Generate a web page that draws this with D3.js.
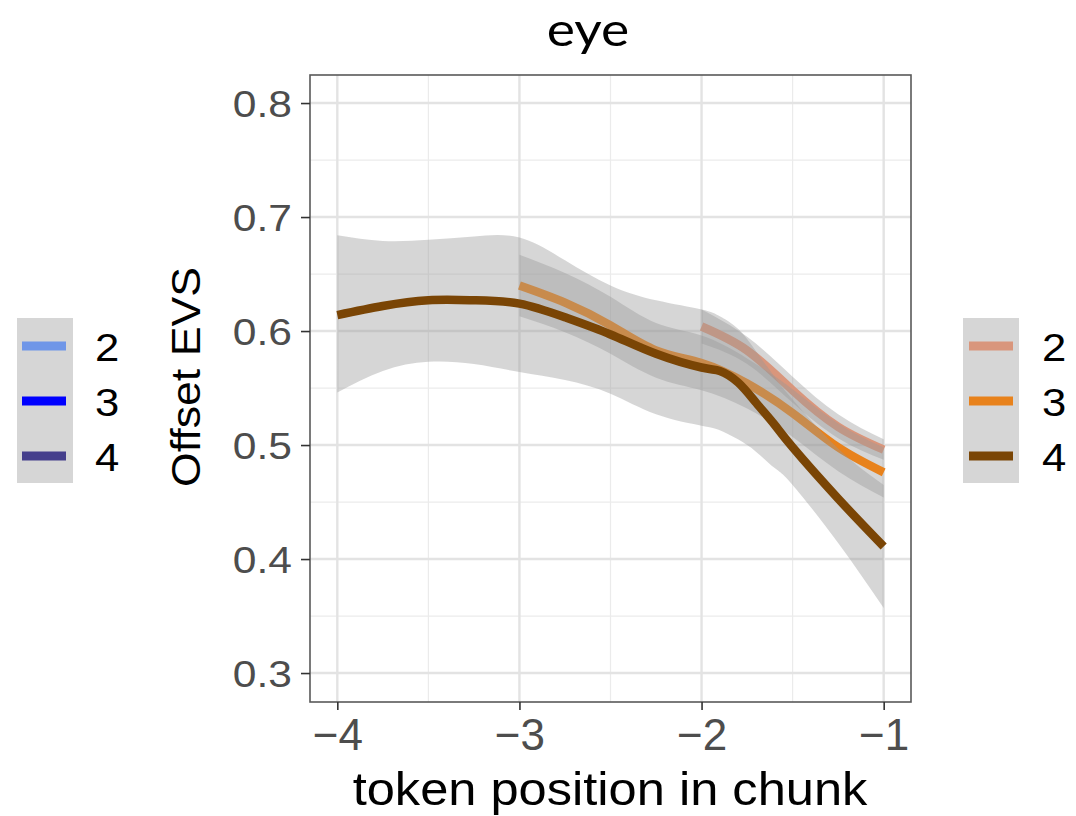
<!DOCTYPE html>
<html><head><meta charset="utf-8">
<script src="https://cdn.jsdelivr.net/npm/d3@7"></script>
<style>body{margin:0;background:#fff}svg{display:block}</style>
</head><body>
<svg id="c" width="1076" height="816"></svg>
<script>
const title = "eye";
const xLabel = "token position in chunk";
const yLabel = "Offset EVS";
const xTicks = [-4, -3, -2, -1];
const xMinor = [-3.5, -2.5, -1.5];
const yTicks = [0.3, 0.4, 0.5, 0.6, 0.7, 0.8];
const yMinor = [0.35, 0.45, 0.55, 0.65, 0.75];

// series "2" (salmon)
const s2x  = [-2, -1.75, -1.5, -1.25, -1];
const s2y  = [0.604, 0.583, 0.548, 0.516, 0.496];
const s2lo = [0.589, 0.571, 0.537, 0.506, 0.487];
const s2hi = [0.619, 0.595, 0.560, 0.527, 0.505];

// series "3" (orange)
const s3x  = [-3, -2.75, -2.5, -2.25, -2, -1.75, -1.5, -1.25, -1];
const s3y  = [0.640, 0.625, 0.605, 0.583, 0.572, 0.554, 0.528, 0.498, 0.476];
const s3lo = [0.613, 0.599, 0.580, 0.559, 0.548, 0.532, 0.507, 0.477, 0.454];
const s3hi = [0.667, 0.651, 0.630, 0.607, 0.596, 0.576, 0.549, 0.519, 0.498];

// series "4" (brown)
const s4x  = [-4, -3.75, -3.5, -3.25, -3, -2.75, -2.5, -2.25, -2, -1.9, -1.8, -1.7, -1.6, -1.5, -1.25, -1];
const s4y  = [0.614, 0.622, 0.627, 0.627, 0.624, 0.612, 0.597, 0.580, 0.568, 0.565, 0.555, 0.537, 0.518, 0.498, 0.453, 0.411];
const s4lo = [0.546, 0.565, 0.573, 0.571, 0.564, 0.557, 0.545, 0.527, 0.517, 0.513, 0.505, 0.494, 0.480, 0.465, 0.414, 0.357];
const s4hi = [0.684, 0.679, 0.680, 0.683, 0.682, 0.662, 0.640, 0.627, 0.619, 0.613, 0.602, 0.582, 0.560, 0.540, 0.497, 0.465];

const legendLabels = ["2", "3", "4"];
const leftColors  = ["#6F96E8", "#0000FF", "#453F8C"];
const rightColors = ["#D9967C", "#E8821C", "#7A4505"];

const svg = d3.select("#c");
const P = {l: 310, r: 911, t: 75, b: 702};
const x = d3.scaleLinear().domain([-4.15, -0.85]).range([P.l, P.r]);
const y = d3.scaleLinear().domain([0.2746, 0.8246]).range([P.b, P.t]);

// gridlines
const grid = svg.append("g");
grid.selectAll(".vmin").data(xMinor).join("line")
  .attr("x1", d => x(d)).attr("x2", d => x(d)).attr("y1", P.t).attr("y2", P.b)
  .attr("stroke", "#ebebeb").attr("stroke-width", 1.2);
grid.selectAll(".hmin").data(yMinor).join("line")
  .attr("y1", d => y(d)).attr("y2", d => y(d)).attr("x1", P.l).attr("x2", P.r)
  .attr("stroke", "#ebebeb").attr("stroke-width", 1.2);
grid.selectAll(".vmaj").data(xTicks).join("line")
  .attr("x1", d => x(d)).attr("x2", d => x(d)).attr("y1", P.t).attr("y2", P.b)
  .attr("stroke", "#e3e3e3").attr("stroke-width", 2.4);
grid.selectAll(".hmaj").data(yTicks).join("line")
  .attr("y1", d => y(d)).attr("y2", d => y(d)).attr("x1", P.l).attr("x2", P.r)
  .attr("stroke", "#e3e3e3").attr("stroke-width", 2.4);

svg.append("clipPath").attr("id", "clip").append("rect")
  .attr("x", P.l).attr("y", P.t).attr("width", P.r - P.l).attr("height", P.b - P.t);
const plot = svg.append("g").attr("clip-path", "url(#clip)");

const curve = d3.curveNatural;
function drawSeries(xs, ys, lo, hi, color, w) {
  const pts = xs.map((v, i) => ({x: v, y: ys[i], lo: lo[i], hi: hi[i]}));
  plot.append("path").datum(pts)
    .attr("d", d3.area().x(d => x(d.x)).y0(d => y(d.lo)).y1(d => y(d.hi)).curve(curve))
    .attr("fill", "#999999").attr("fill-opacity", 0.4);
  plot.append("path").datum(pts)
    .attr("d", d3.line().x(d => x(d.x)).y(d => y(d.y)).curve(curve))
    .attr("fill", "none").attr("stroke", color).attr("stroke-width", w)
    .attr("stroke-linecap", "butt");
}
drawSeries(s2x, s2y, s2lo, s2hi, rightColors[0], 8.5);
drawSeries(s3x, s3y, s3lo, s3hi, rightColors[1], 8.5);
drawSeries(s4x, s4y, s4lo, s4hi, rightColors[2], 8.5);

// panel border
svg.append("rect").attr("x", P.l).attr("y", P.t).attr("width", P.r - P.l).attr("height", P.b - P.t)
  .attr("fill", "none").attr("stroke", "#595959").attr("stroke-width", 1.6);

const FONT = "'Liberation Sans', Arial, sans-serif";

// y axis
const yAxis = svg.append("g").attr("transform", `translate(${P.l},0)`)
  .call(d3.axisLeft(y).tickValues(yTicks).tickFormat(d3.format(".1f")).tickSize(9).tickPadding(0));
yAxis.select(".domain").remove();
yAxis.selectAll(".tick line").attr("stroke", "#333").attr("stroke-width", 1.6);
yAxis.selectAll(".tick text")
  .attr("x", 0).attr("dy", null).attr("y", 0)
  .attr("transform", "translate(-18,13.5) scale(1.15,1)")
  .attr("font-family", FONT).attr("font-size", 37).attr("fill", "#4d4d4d")
  .attr("text-anchor", "end");

// x axis
const xAxis = svg.append("g").attr("transform", `translate(0,${P.b})`)
  .call(d3.axisBottom(x).tickValues(xTicks).tickFormat(d => "\u2212" + Math.abs(d)).tickSize(8).tickPadding(0));
xAxis.select(".domain").remove();
xAxis.selectAll(".tick line").attr("stroke", "#333").attr("stroke-width", 1.6);
xAxis.selectAll(".tick text")
  .attr("y", 48).attr("dy", null)
  .attr("font-family", FONT).attr("font-size", 44).attr("fill", "#4d4d4d")
  .attr("text-anchor", "middle");

// axis titles
svg.append("text").attr("transform", "translate(610,805) scale(1.1,1)")
  .attr("text-anchor", "middle").attr("font-family", FONT).attr("font-size", 46)
  .attr("fill", "#000").text(xLabel);
svg.append("text").attr("transform", "translate(200,377) rotate(-90) scale(1.09,1)")
  .attr("text-anchor", "middle").attr("font-family", FONT).attr("font-size", 41)
  .attr("fill", "#000").text(yLabel);

// title
svg.append("text").attr("transform", "translate(588,46) scale(1.16,1)")
  .attr("text-anchor", "middle").attr("font-family", "Lato, 'Open Sans', sans-serif").attr("font-size", 46)
  .attr("fill", "#000").text(title);

// legends
function legend(bx, lx, tx, colors) {
  const g = svg.append("g");
  g.append("rect").attr("x", bx).attr("y", 318).attr("width", 56).attr("height", 165).attr("fill", "#d6d6d6");
  const ky = d3.scalePoint().domain(legendLabels).range([346, 456]);
  legendLabels.forEach((lab, i) => {
    g.append("line").attr("x1", lx).attr("x2", lx + 44).attr("y1", ky(lab)).attr("y2", ky(lab))
      .attr("stroke", colors[i]).attr("stroke-width", 9);
    g.append("text").attr("transform", `translate(${tx},${ky(lab) + 15}) scale(1.12,1)`)
      .attr("font-family", FONT).attr("font-size", 39).attr("fill", "#000").text(lab);
  });
}
legend(17, 22, 95, leftColors);
legend(963, 969, 1042, rightColors);
</script>
</body></html>
